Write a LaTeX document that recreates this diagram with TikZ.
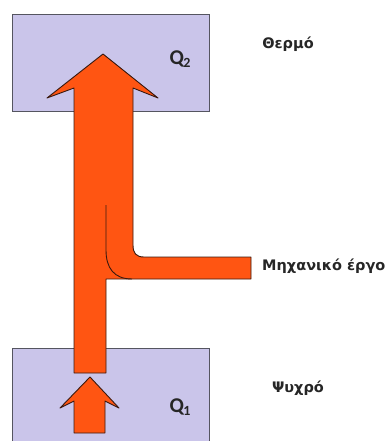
\documentclass[tikz,border=0pt]{standalone}
\usepackage{fontspec}
\setmainfont{Carlito}
\newfontfamily\labelfont{DejaVu Sans}
\definecolor{boxfill}{HTML}{CAC5EA}
\definecolor{boxline}{HTML}{555560}
\definecolor{arrowfill}{HTML}{FF5512}
\definecolor{arrowline}{HTML}{3A1A10}
\begin{document}
\begin{tikzpicture}[x=1pt,y=-1pt,
  reservoir/.style={draw=boxline,fill=boxfill,line width=1pt,inner sep=0pt,anchor=north west},
  flow/.style={fill=arrowfill,draw=arrowline,line width=0.9pt,line join=round},
  qlabel/.style={font=\fontsize{21}{21}\selectfont\bfseries,text=black!85},
  side/.style={font=\labelfont\fontsize{14.5}{16}\selectfont\bfseries,text=black!85}]
\useasboundingbox (0,0) rectangle (386,441);
\clip (0,0) rectangle (386,441);
\node[reservoir,minimum width=197pt,minimum height=97pt] (hot) at (12,14) {};
\node[reservoir,minimum width=197pt,minimum height=100pt] (cold) at (12,348) {};
% main arrow with branch
\draw[flow] (103,54) -- (158,98) -- (133,88) -- (133,245)
  .. controls (133,253) and (136,257) .. (144,257) -- (251,257) -- (251,279)
  -- (106,279) -- (106,373) -- (74,373) -- (74,88) -- (47,98) -- cycle;
\draw[arrowline,line width=0.9pt] (106,205) -- (106,250)
  .. controls (106,268) and (114,279) .. (132,279);
% small arrow in cold box
\draw[flow] (90,377) -- (119,408) -- (105,401) -- (105,433) -- (74,433)
  -- (74,401) -- (60,408) -- cycle;
\node[qlabel] (q2) at (180,59) {Q\kern-0.5pt\raisebox{-0.3ex}{\fontsize{14}{14}\selectfont 2}};
\node[qlabel] (q1) at (180,407) {Q\kern-0.5pt\raisebox{-0.3ex}{\fontsize{14}{14}\selectfont 1}};
\node[side] (thermo) at (288,44) {Θερμό};
\node[side,anchor=west,inner sep=0pt] (ergo) at (262,266) {Μηχανικό έργο};
\node[side] (psychro) at (298,388) {Ψυχρό};
\end{tikzpicture}
\end{document}
